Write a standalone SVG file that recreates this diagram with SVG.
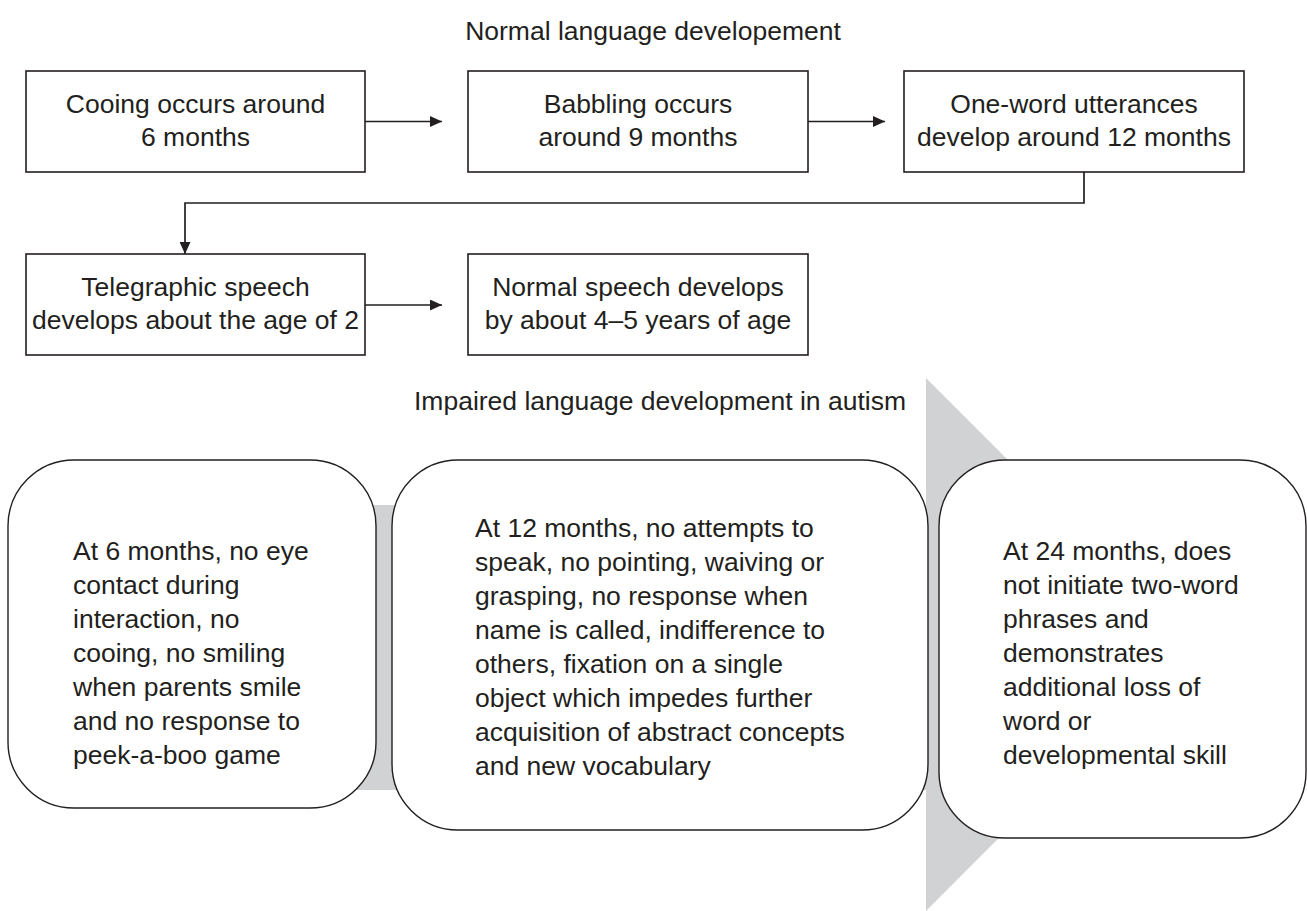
<svg xmlns="http://www.w3.org/2000/svg" width="1307" height="911" viewBox="0 0 1307 911">
<style>
text{font-family:"Liberation Sans",Arial,sans-serif;font-size:26.5px;fill:#231f20}
.c{text-anchor:middle}
.box{fill:#fff;stroke:#231f20;stroke-width:1.6}
.rbox{fill:#fff;stroke:#231f20;stroke-width:1.4}
.conn{fill:none;stroke:#231f20;stroke-width:1.7}
.gray{fill:#d1d2d4}
</style>
<defs>
<marker id="ah" viewBox="0 0 12 11" refX="12" refY="5.5" markerWidth="12" markerHeight="11" markerUnits="userSpaceOnUse" orient="auto">
<path d="M0,0 L12,5.5 L0,11 Z" fill="#231f20"/>
</marker>
</defs>
<rect width="1307" height="911" fill="#fff"/>
<text class="c" x="653" y="40">Normal language developement</text>
<g id="connectors">
<path class="conn" d="M365,121.5 H442" marker-end="url(#ah)"/>
<path class="conn" d="M808,121.5 H885" marker-end="url(#ah)"/>
<path class="conn" d="M1084,172 V203 H185 V254" marker-end="url(#ah)"/>
<path class="conn" d="M365,305 H442" marker-end="url(#ah)"/>
</g>
<g id="n1"><rect class="box" x="26" y="71" width="339" height="101"/>
<text class="c" x="195.5" y="113">Cooing occurs around</text><text class="c" x="195.5" y="146">6 months</text></g>
<g id="n2"><rect class="box" x="468" y="71" width="340" height="101"/>
<text class="c" x="638" y="113">Babbling occurs</text><text class="c" x="638" y="146">around 9 months</text></g>
<g id="n3"><rect class="box" x="904" y="71" width="340" height="101"/>
<text class="c" x="1074" y="113">One-word utterances</text><text class="c" x="1074" y="146">develop around 12 months</text></g>
<g id="n4"><rect class="box" x="26" y="254" width="339" height="101"/>
<text class="c" x="195.5" y="296">Telegraphic speech</text><text class="c" x="195.5" y="329">develops about the age of 2</text></g>
<g id="n5"><rect class="box" x="468" y="254" width="340" height="101"/>
<text class="c" x="638" y="296">Normal speech develops</text><text class="c" x="638" y="329">by about 4–5 years of age</text></g>
<g id="arrow-bg">
<rect class="gray" x="100" y="505" width="826" height="285"/>
<polygon class="gray" points="926,378 1192,644 926,911"/>
</g>
<text class="c" x="660" y="410">Impaired language development in autism</text>
<g id="a1"><rect class="rbox" x="8" y="460" width="368" height="348" rx="66" ry="66"/>
<text x="73"><tspan x="73" y="560">At 6 months, no eye</tspan><tspan x="73" y="594">contact during</tspan><tspan x="73" y="628">interaction, no</tspan><tspan x="73" y="662">cooing, no smiling</tspan><tspan x="73" y="696">when parents smile</tspan><tspan x="73" y="730">and no response to</tspan><tspan x="73" y="764">peek-a-boo game</tspan></text></g>
<g id="a2"><rect class="rbox" x="392" y="460" width="536" height="370" rx="66" ry="66"/>
<text x="475"><tspan x="475" y="537">At 12 months, no attempts to</tspan><tspan x="475" y="571">speak, no pointing, waiving or</tspan><tspan x="475" y="605">grasping, no response when</tspan><tspan x="475" y="639">name is called, indifference to</tspan><tspan x="475" y="673">others, fixation on a single</tspan><tspan x="475" y="707">object which impedes further</tspan><tspan x="475" y="741">acquisition of abstract concepts</tspan><tspan x="475" y="775">and new vocabulary</tspan></text></g>
<g id="a3"><rect class="rbox" x="939" y="460" width="367" height="378" rx="66" ry="66"/>
<text x="1003"><tspan x="1003" y="560">At 24 months, does</tspan><tspan x="1003" y="594">not initiate two-word</tspan><tspan x="1003" y="628">phrases and</tspan><tspan x="1003" y="662">demonstrates</tspan><tspan x="1003" y="696">additional loss of</tspan><tspan x="1003" y="730">word or</tspan><tspan x="1003" y="764">developmental skill</tspan></text></g>
</svg>
